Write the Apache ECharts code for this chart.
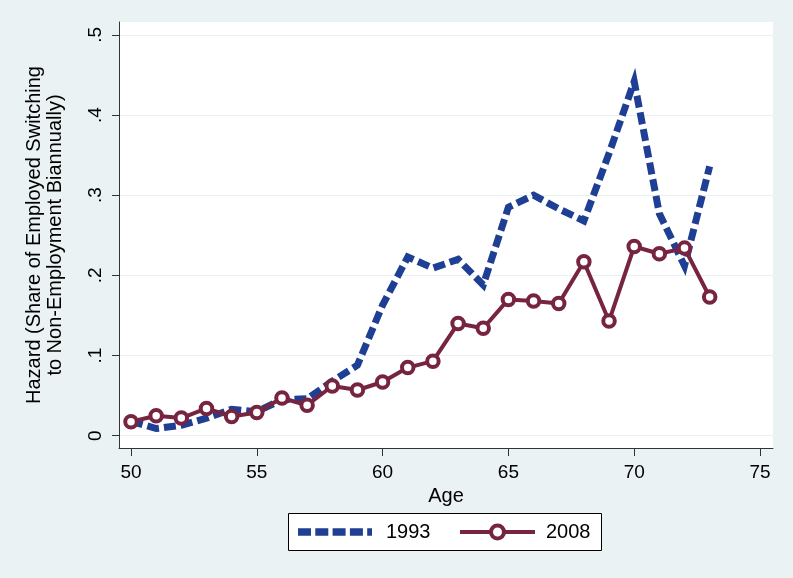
<!DOCTYPE html>
<html>
<head>
<meta charset="utf-8">
<script src="https://cdn.jsdelivr.net/npm/echarts@6/dist/echarts.min.js"></script>
<style>
html,body{margin:0;padding:0;background:#eaf2f3;}
#c{width:793px;height:578px;}
</style>
</head>
<body>
<div id="c"></div>
<script>
const ages = [50,51,52,53,54,55,56,57,58,59,60,61,62,63,64,65,66,67,68,69,70,71,72,73];
const s1993 = [0.018,0.009,0.013,0.022,0.033,0.030,0.045,0.046,0.068,0.088,0.163,0.223,0.209,0.220,0.188,0.285,0.300,0.283,0.268,0.352,0.442,0.277,0.212,0.336];
const s2008 = [0.0175,0.025,0.022,0.034,0.024,0.029,0.047,0.038,0.062,0.057,0.067,0.085,0.093,0.140,0.134,0.170,0.168,0.165,0.217,0.143,0.236,0.227,0.234,0.173];
const xTicks = [50,55,60,65,70,75];
const yTicks = [0,0.1,0.2,0.3,0.4,0.5];
const yTickLabels = ['0','.1','.2','.3','.4','.5'];
const seriesNames = ['1993','2008'];
const yTitle = ['Hazard (Share of Employed Switching','to Non-Employment Biannually)'];
const xTitle = 'Age';

const FONT = 'Liberation Sans, Arial, Helvetica, sans-serif';
const BLUE = '#1f3f94';
const MAROON = '#772440';
const chart = echarts.init(document.getElementById('c'), null, {renderer:'canvas'});
const pair = (xs, ys) => xs.map((x,i)=>[x, ys[i]]);

chart.setOption({
  backgroundColor:'#eaf2f3',
  animation:false,
  grid:{left:119, right:20, top:22, bottom:130, show:true, backgroundColor:'#ffffff', borderWidth:0},
  xAxis:{
    type:'value', min:49.523, max:75.517,
    name:xTitle, nameLocation:'middle', nameGap:30,
    nameTextStyle:{fontFamily:FONT, fontSize:20, color:'#000'},
    axisLine:{show:true, onZero:false, lineStyle:{color:'#333', width:1}},
    axisTick:{show:true, length:8, lineStyle:{color:'#333'}, customValues:xTicks},
    axisLabel:{fontFamily:FONT, fontSize:19, color:'#000', margin:15, customValues:xTicks, formatter:v=>String(v)},
    splitLine:{show:false}
  },
  yAxis:{
    type:'value', min:-0.0153, max:0.516,
    axisLine:{show:true, onZero:false, lineStyle:{color:'#333', width:1}},
    axisTick:{show:true, length:7, lineStyle:{color:'#333'}, customValues:yTicks},
    axisLabel:{fontFamily:FONT, fontSize:19, color:'#000', rotate:90, margin:14, customValues:yTicks,
      formatter:v=>{const i=yTicks.findIndex(t=>Math.abs(t-v)<1e-9); return i>=0?yTickLabels[i]:'';}},
    splitLine:{show:true, lineStyle:{color:'#e8f0f1', width:1}}
  },
  graphic:[
    {type:'text', x:34, y:235, rotation:Math.PI/2,
      style:{text:yTitle[0], fontFamily:FONT, fontSize:20, fill:'#000', align:'center', verticalAlign:'middle'}},
    {type:'text', x:55, y:235, rotation:Math.PI/2,
      style:{text:yTitle[1], fontFamily:FONT, fontSize:20, fill:'#000', align:'center', verticalAlign:'middle'}},
    {type:'rect', shape:{x:288.5, y:513.5, width:313, height:37}, style:{fill:'#ffffff', stroke:'#000', lineWidth:1}},
    {type:'line', shape:{x1:298, y1:532, x2:372, y2:532}, style:{stroke:BLUE, lineWidth:7.5, lineDash:[13,4.3], lineCap:'butt'}},
    {type:'text', x:386, y:532, style:{text:seriesNames[0], fontFamily:FONT, fontSize:20, fill:'#000', align:'left', verticalAlign:'middle'}},
    {type:'line', shape:{x1:460, y1:532, x2:535, y2:532}, style:{stroke:MAROON, lineWidth:4}},
    {type:'circle', shape:{cx:497.5, cy:532, r:6.5}, style:{fill:'#fff', stroke:MAROON, lineWidth:4}},
    {type:'text', x:546, y:532, style:{text:seriesNames[1], fontFamily:FONT, fontSize:20, fill:'#000', align:'left', verticalAlign:'middle'}}
  ],
  series:[
    {name:seriesNames[0], type:'line', data:pair(ages,s1993), symbol:'none', showSymbol:false, z:2,
      lineStyle:{color:BLUE, width:7, type:[12,5], cap:'butt', join:'miter'},
      itemStyle:{color:BLUE}},
    {name:seriesNames[1], type:'line', data:pair(ages,s2008), symbol:'circle', symbolSize:11.5, z:3,
      lineStyle:{color:MAROON, width:4},
      itemStyle:{color:'#ffffff', borderColor:MAROON, borderWidth:4}}
  ]
});
</script>
</body>
</html>
